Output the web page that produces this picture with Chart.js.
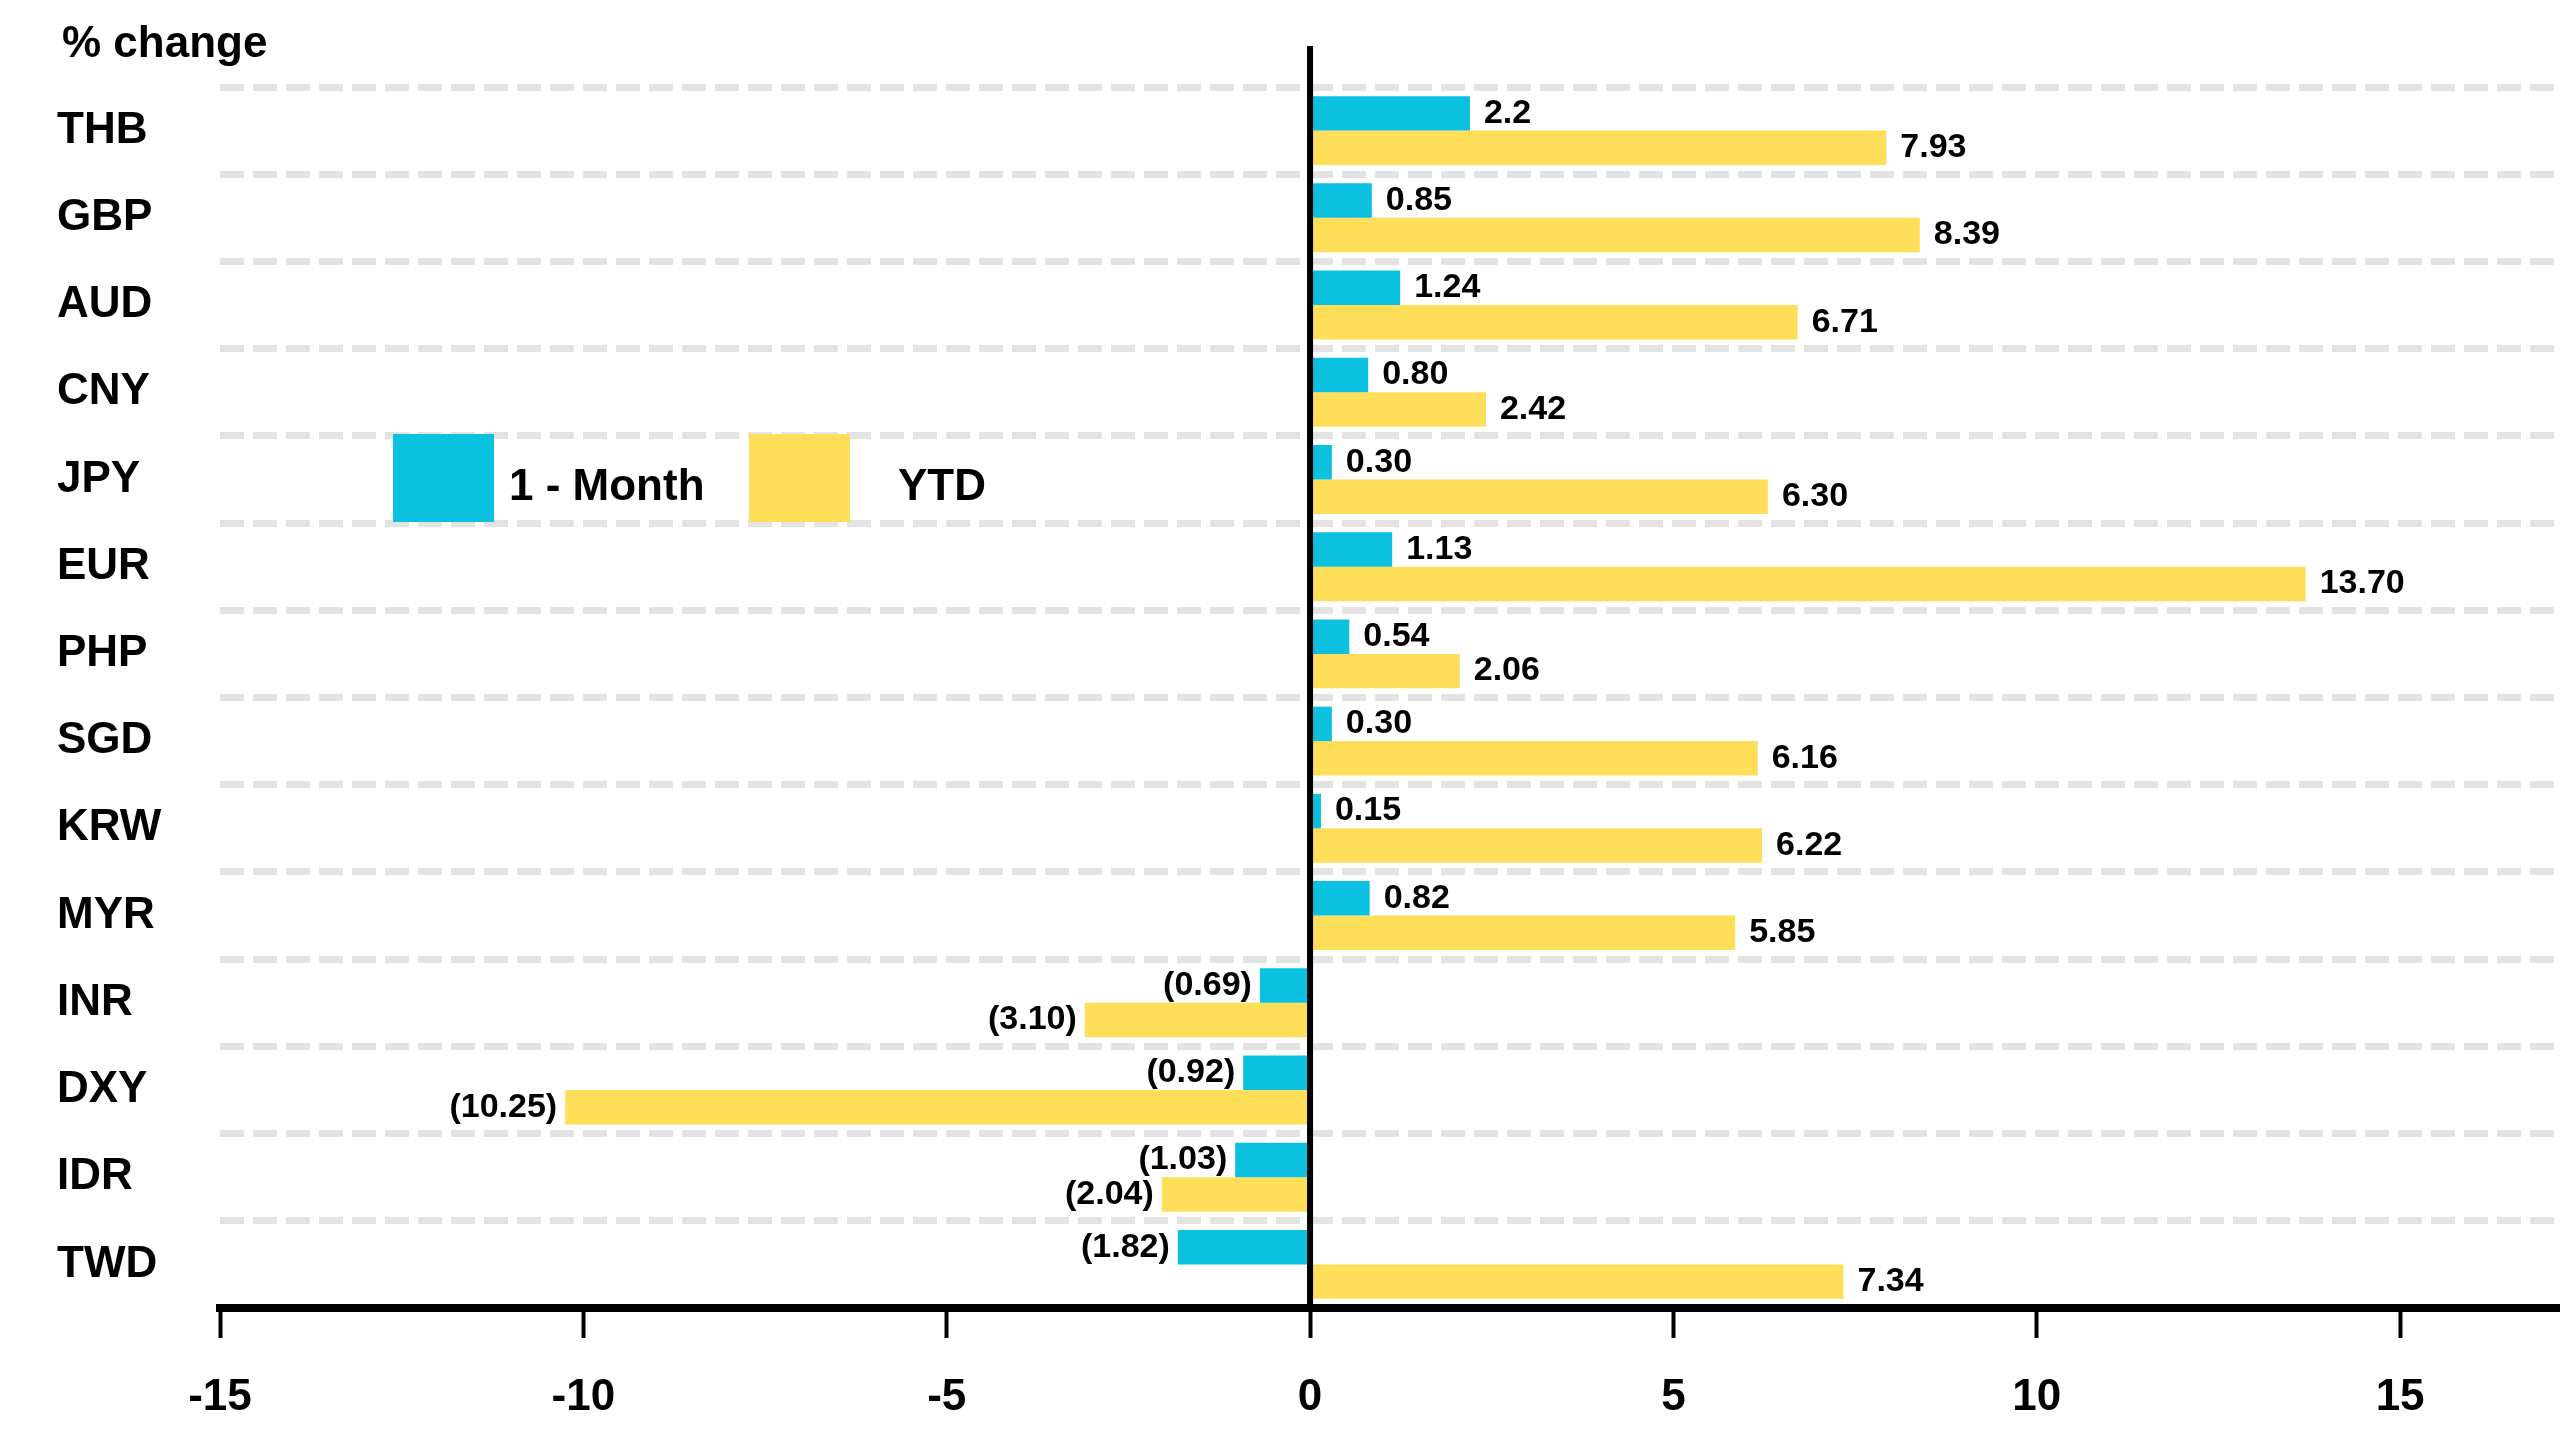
<!DOCTYPE html>
<html>
<head>
<meta charset="utf-8">
<script src="https://cdn.jsdelivr.net/npm/chart.js@4.4.1/dist/chart.umd.min.js"></script>
<style>
  html, body { margin: 0; padding: 0; background: #fff; }
  #wrap { position: relative; width: 2560px; height: 1440px; font-family: "Liberation Sans", Arial, sans-serif; font-weight: bold; color: #000; }
  #unit { position: absolute; left: 62px; top: 14px; font-size: 44px; line-height: 56px; }
  .key { position: absolute; top: 434px; width: 101px; height: 88px; }
  .keytxt { position: absolute; top: 457px; font-size: 44px; line-height: 56px; }
</style>
</head>
<body>
<div id="wrap">
  <canvas id="fx" width="2560" height="1440"></canvas>
  <div id="unit">% change</div>
  <div class="key" style="left:393px;background:#0cc0df"></div>
  <div class="keytxt" style="left:509px">1 - Month</div>
  <div class="key" style="left:749px;background:#ffde59"></div>
  <div class="keytxt" style="left:898px">YTD</div>
</div>
<script>
const currencies = ["THB", "GBP", "AUD", "CNY", "JPY", "EUR", "PHP", "SGD", "KRW", "MYR", "INR", "DXY", "IDR", "TWD"];
const monthVals = [2.2, 0.85, 1.24, 0.80, 0.30, 1.13, 0.54, 0.30, 0.15, 0.82, -0.69, -0.92, -1.03, -1.82];
const ytdVals = [7.93, 8.39, 6.71, 2.42, 6.30, 13.70, 2.06, 6.16, 6.22, 5.85, -3.10, -10.25, -2.04, 7.34];
const xTicks = [-15, -10, -5, 0, 5, 10, 15];

function fmt(v) {
    return v < 0 ? "(" + (-v).toFixed(2) + ")" : v.toFixed(2);
}
const monthText = monthVals.map(fmt);
monthText[0] = "2.2"; // source prints this one with a single decimal
const ytdText = ytdVals.map(fmt);
const allText = [monthText, ytdText];

Chart.defaults.font.family = '"Liberation Sans", Arial, sans-serif';
Chart.defaults.font.weight = "bold";
Chart.defaults.color = "#000";

// black zero line, drawn over the bars and a bit above the plot
const zeroLine = {
    id: "zeroLine",
    afterDatasetsDraw(chart) {
        const ctx = chart.ctx;
        const x = chart.scales.x.getPixelForValue(0);
        ctx.save();
        ctx.strokeStyle = "#000";
        ctx.lineWidth = 6;
        ctx.beginPath();
        ctx.moveTo(x, 46);
        ctx.lineTo(x, chart.chartArea.bottom);
        ctx.stroke();
        ctx.restore();
    }
};

const valueLabels = {
    id: "valueLabels",
    afterDatasetsDraw(chart) {
        const ctx = chart.ctx;
        ctx.save();
        ctx.font = "bold 34px 'Liberation Sans', Arial, sans-serif";
        ctx.fillStyle = "#000";
        ctx.textBaseline = "middle";
        chart.data.datasets.forEach(function(ds, i) {
            chart.getDatasetMeta(i).data.forEach(function(bar, j) {
                if (ds.data[j] >= 0) {
                    ctx.textAlign = "left";
                    ctx.fillText(allText[i][j], bar.x + 14, bar.y);
                } else {
                    ctx.textAlign = "right";
                    ctx.fillText(allText[i][j], bar.x - 8, bar.y);
                }
            });
        });
        ctx.restore();
    }
};

new Chart("fx", {
    type: "bar",
    data: {
        labels: currencies,
        datasets: [
            { label: "1 - Month", data: monthVals, backgroundColor: "#0cc0df" },
            { label: "YTD", data: ytdVals, backgroundColor: "#ffde59" }
        ]
    },
    options: {
        indexAxis: "y",
        responsive: false,
        animation: false,
        devicePixelRatio: 1,
        layout: { padding: { left: 57, top: 87, right: 0, bottom: 0 } },
        datasets: { bar: { categoryPercentage: 0.79, barPercentage: 1 } },
        plugins: {
            legend: { display: false },
            tooltip: { enabled: false }
        },
        scales: {
            x: {
                min: -15,
                max: 17.2,
                afterBuildTicks: function(scale) {
                    scale.ticks = xTicks.map(function(v) { return { value: v }; });
                },
                afterFit: function(scale) { scale.height = 132; },
                ticks: { font: { size: 44, weight: "bold" }, padding: 33, maxRotation: 0 },
                grid: { drawOnChartArea: false, drawTicks: true, tickLength: 30, tickColor: "#000", tickWidth: 4 },
                border: { display: true, color: "#000", width: 8 }
            },
            y: {
                afterFit: function(scale) { scale.width = 163; },
                ticks: { font: { size: 44, weight: "bold" }, crossAlign: "far" },
                grid: { color: "#e3e3e3", lineWidth: 7, drawTicks: false },
                border: { display: false, dash: [24, 9] }
            }
        }
    },
    plugins: [zeroLine, valueLabels]
});
</script>
</body>
</html>
